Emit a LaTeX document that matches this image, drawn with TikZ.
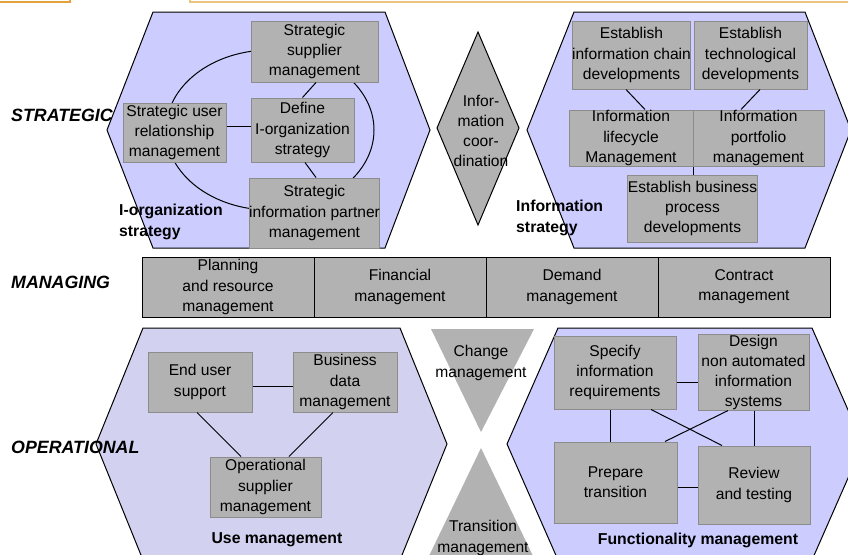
\documentclass[tikz,border=0pt]{standalone}
\usepackage{fontspec}
\setmainfont{Liberation Sans}
\definecolor{hexfill}{HTML}{CCCCFF}
\definecolor{hexfillb}{HTML}{D2D2F0}
\definecolor{boxfill}{HTML}{B2B2B2}
\definecolor{boxline}{HTML}{8C8C8C}
\definecolor{orangeA}{HTML}{E3A23C}
\definecolor{orangeB}{HTML}{E9C57F}
\begin{document}
\begin{tikzpicture}[x=1pt,y=-1pt,
  txt/.style={font=\fontsize{15.6}{20.2}\selectfont},
  gbox/.style={txt, draw=boxline, fill=boxfill, line width=1pt, inner sep=0pt, align=center},
  mcell/.style={txt, draw=black, fill=boxfill, line width=1pt, inner sep=0pt, align=center, minimum width=172pt, minimum height=60pt},
  hex/.style={draw=black, line width=1pt},
  conn/.style={draw=black, line width=1pt},
  lvl/.style={font=\fontsize{17.8}{21}\selectfont\bfseries\itshape, anchor=west, inner sep=0pt},
  area/.style={font=\fontsize{15.8}{20.5}\selectfont\bfseries, inner sep=0pt}]
\useasboundingbox (0,0) rectangle (848,554);
\clip (0,0) rectangle (848,554);

% top partial frames
\draw[orangeA, line width=1.2pt] (-5,-20) rectangle (70,2);
\draw[orangeB, line width=1.2pt] (190,-20) rectangle (860,2);

% hexagons
\draw[hex, fill=hexfill] (153,12) -- (385,12) -- (430,130) -- (385,248) -- (153,248) -- (107,130) -- cycle;
\draw[hex, fill=hexfill] (574,12) -- (805,12) -- (851,130) -- (805,248) -- (574,248) -- (527,130) -- cycle;
\draw[hex, fill=hexfillb] (143,328) -- (400,328) -- (447,444) -- (400,560) -- (143,560) -- (96,444) -- cycle;
\draw[hex, fill=hexfill] (558,328) -- (812,328) -- (863,444) -- (812,560) -- (558,560) -- (507,444) -- cycle;

% diamond and triangles
\draw[hex, fill=boxfill] (478,32) -- (519,128) -- (478,225) -- (437,128) -- cycle;
\fill[boxfill] (431,329) -- (534,329) -- (481,432) -- cycle;
\fill[boxfill] (481,448) -- (533,556) -- (429,556) -- cycle;

% ellipse
\draw[conn] (270,130) ellipse [x radius=104pt, y radius=80pt];

% strategic I-organization
\node[gbox, minimum width=127pt, minimum height=61pt] (ssm) at (314.5,51.5) {Strategic\\supplier\\management};
\node[gbox, minimum width=103pt, minimum height=59pt] (sur) at (174.5,132.5) {Strategic user\\relationship\\management};
\node[gbox, minimum width=103pt, minimum height=64pt] (dio) at (302.5,130) {Define\\I-organization\\strategy};
\node[gbox, minimum width=127pt, minimum height=70pt] (sip) at (314.5,213) {Strategic\\information partner\\management};

% strategic information
\node[gbox, minimum width=113pt, minimum height=68pt] (eic) at (631.5,55) {Establish\\information chain\\developments};
\node[gbox, minimum width=113pt, minimum height=68pt] (etd) at (750.5,55) {Establish\\technological\\developments};
\node[gbox, minimum width=124pt, minimum height=56pt] (ilm) at (631,138) {Information\\lifecycle\\Management};
\node[gbox, minimum width=131pt, minimum height=56pt] (ipm) at (758.5,138) {Information\\portfolio\\management};
\node[gbox, minimum width=127pt, minimum height=67pt] (ebp) at (692.5,208.5) {Establish business\\process\\developments};

% managing
\node[mcell] (prm) at (228,287) {Planning\\and resource\\management};
\node[mcell] (fim) at (400,287) {Financial\\management};
\node[mcell] (dem) at (572,287) {Demand\\management};
\node[mcell] (com) at (744,287) {Contract\\management};

% use management
\node[gbox, minimum width=104pt, minimum height=60pt] (eus) at (200,382) {End user\\support};
\node[gbox, minimum width=104pt, minimum height=60pt] (bdm) at (345,382) {Business\\data\\management};
\node[gbox, minimum width=111pt, minimum height=60pt] (osm) at (265.5,487) {Operational\\supplier\\management};

% functionality management
\node[gbox, minimum width=122pt, minimum height=73pt] (sir) at (615,372.5) {Specify\\information\\requirements};
\node[gbox, minimum width=111pt, minimum height=73pt] (dna) at (753.5,372.5) {Design\\non automated\\information\\systems};
\node[gbox, minimum width=123pt, minimum height=81pt] (prt) at (615.5,482.5) {Prepare\\transition};
\node[gbox, minimum width=112pt, minimum height=78pt] (rvt) at (754,485) {Review\\and testing};

% connectors
\draw[conn] (sur.east |- 0,126) -- (dio.west |- 0,126);
\draw[conn] ([xshift=1.5pt]ssm.south) -- (dio.north);
\draw[conn] ([xshift=2.5pt]dio.south) -- ([xshift=1.5pt]sip.north);
\draw[conn] ([xshift=-5.5pt]eic.south) -- ([xshift=14pt]ilm.north);
\draw[conn] ([xshift=9.5pt]etd.south) -- ([xshift=-17.5pt]ipm.north);
\draw[conn] (ilm.south east) -- (ilm.south east |- ebp.north);
\draw[conn] (eus.east |- 0,386) -- (bdm.west |- 0,386);
\draw[conn] ([xshift=-3pt]eus.south) -- ([xshift=-24.5pt]osm.north);
\draw[conn] ([xshift=-12pt]bdm.south) -- ([xshift=23.5pt]osm.north);
\draw[conn] (sir.east |- 0,382) -- (dna.west |- 0,382);
\draw[conn] (sir.south -| 610,0) -- (prt.north -| 610,0);
\draw[conn] (dna.south -| 754,0) -- (rvt.north -| 754,0);
\draw[conn] (prt.east |- 0,487) -- (rvt.west |- 0,487);
\draw[conn] ([xshift=36pt]sir.south) -- ([xshift=-32pt]rvt.north);
\draw[conn] ([xshift=49.5pt]prt.north) -- ([xshift=-25.5pt]dna.south);

% shape texts
\node[txt, align=center, inner sep=0pt] (ico) at (481,131) {Infor-\\mation\\coor-\\dination};
\node[txt, align=center, inner sep=0pt] (chg) at (481,363) {Change\\management};
\node[txt, align=center, inner sep=0pt] (trn) at (483,538) {Transition\\management};

% level labels
\node[lvl] (lst) at (11,115) {STRATEGIC};
\node[lvl] (lma) at (11,282) {MANAGING};
\node[lvl] (lop) at (11,447) {OPERATIONAL};

% area labels
\node[area, align=left, anchor=west] (aio) at (119,222) {I-organization\\strategy};
\node[area, align=left, anchor=west] (ais) at (516,218) {Information\\strategy};
\node[area] (aum) at (277,540) {Use management};
\node[area] (afm) at (698,540) {Functionality management};
\end{tikzpicture}
\end{document}
